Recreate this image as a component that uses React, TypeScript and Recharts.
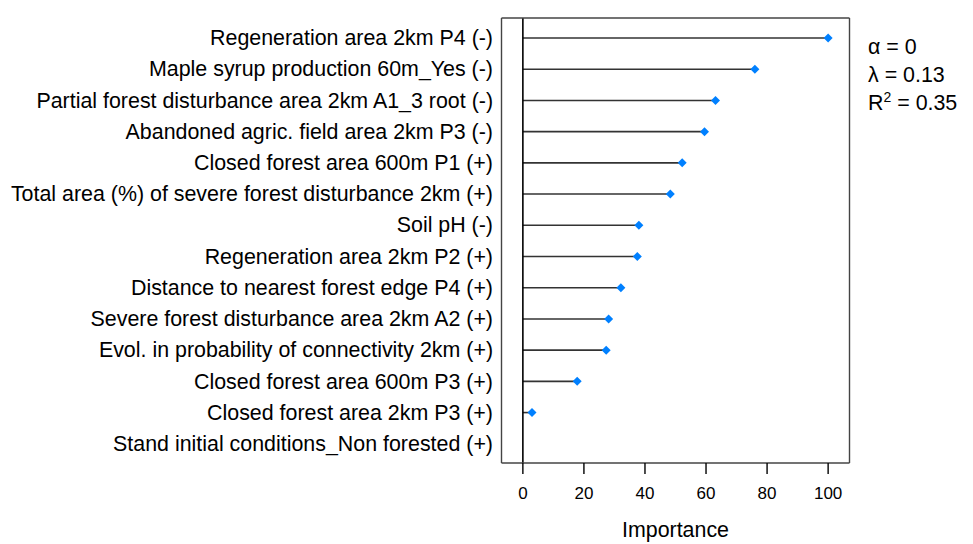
import React from 'react';
import { ComposedChart, Bar, XAxis, YAxis, ReferenceLine } from 'recharts';

const labels: string[] = [
  'Regeneration area 2km P4 (-)',
  'Maple syrup production 60m_Yes (-)',
  'Partial forest disturbance area 2km A1_3 root (-)',
  'Abandoned agric. field area 2km P3 (-)',
  'Closed forest area 600m P1 (+)',
  'Total area (%) of severe forest disturbance 2km (+)',
  'Soil pH (-)',
  'Regeneration area 2km P2 (+)',
  'Distance to nearest forest edge P4 (+)',
  'Severe forest disturbance area 2km A2 (+)',
  'Evol. in probability of connectivity 2km (+)',
  'Closed forest area 600m P3 (+)',
  'Closed forest area 2km P3 (+)',
  'Stand initial conditions_Non forested (+)',
];

const importance: (number | null)[] = [100, 76.0, 63.1, 59.5, 52.2, 48.3, 38.0, 37.5, 32.1, 28.1, 27.3, 17.8, 3.0, null];

const xTicks: number[] = [0, 20, 40, 60, 80, 100];

const rows = labels.map((name, i) => ({ name, value: importance[i] }));

const FONT = '"Liberation Sans", Arial, sans-serif';

const Lollipop = (props: any) => {
  const { x, y, width, height, payload } = props;
  if (payload == null || payload.value == null) return null;
  const cy = y + height / 2;
  const x2 = x + width;
  const r = 4.5;
  return (
    <g>
      <line x1={x} y1={cy} x2={x2} y2={cy} stroke="#333" strokeWidth={1.6} />
      <polygon
        points={`${x2},${cy - r} ${x2 + r},${cy} ${x2},${cy + r} ${x2 - r},${cy}`}
        fill="#0080ff"
      />
    </g>
  );
};

export default function App() {
  return (
    <div style={{ position: 'absolute', left: 0, top: 0, width: 973, height: 544, background: '#fff' }}>
      <ComposedChart
        layout="vertical"
        width={973}
        height={544}
        data={rows}
        margin={{ top: 0, right: 0, bottom: 0, left: 0 }}
        barSize={10}
      >
        <XAxis
          xAxisId="bottom"
          orientation="bottom"
          type="number"
          domain={[-7, 107]}
          ticks={xTicks}
          height={81}
          tickSize={11}
          tickMargin={13}
          axisLine={{ stroke: '#444', strokeWidth: 1.4 }}
          tickLine={{ stroke: '#000', strokeWidth: 1.4 }}
          tick={{ fontSize: 17, fill: '#000', fontFamily: FONT }}
          allowDataOverflow
          label={{ value: 'Importance', position: 'insideBottom', offset: 7, fontSize: 21.4, fill: '#000', fontFamily: FONT }}
        />
        <XAxis
          xAxisId="top"
          orientation="top"
          type="number"
          domain={[-7, 107]}
          ticks={xTicks}
          height={18}
          tickSize={11}
          axisLine={{ stroke: '#444', strokeWidth: 1.4 }}
          tickLine={{ stroke: '#000', strokeWidth: 1.4 }}
          tick={false}
          allowDataOverflow
        />
        <YAxis
          yAxisId="left"
          type="category"
          dataKey="name"
          width={501.5}
          padding={{ top: 4, bottom: 4 }}
          tickLine={false}
          tickSize={0}
          tickMargin={8.5}
          axisLine={{ stroke: '#444', strokeWidth: 1.4 }}
          tick={{ fontSize: 21.4, fill: '#000', fontFamily: FONT }}
          interval={0}
        />
        <YAxis
          yAxisId="right"
          orientation="right"
          type="category"
          dataKey="name"
          width={123.5}
          padding={{ top: 4, bottom: 4 }}
          tickLine={false}
          tick={false}
          axisLine={{ stroke: '#444', strokeWidth: 1.4 }}
        />
        <ReferenceLine x={0} xAxisId="bottom" yAxisId="left" stroke="#000" strokeWidth={1.6} />
        <Bar
          dataKey="value"
          xAxisId="bottom"
          yAxisId="left"
          shape={Lollipop}
          isAnimationActive={false}
        />
      </ComposedChart>
      <div
        style={{
          position: 'absolute',
          left: 868,
          top: 33,
          fontFamily: FONT,
          fontSize: 21.4,
          lineHeight: '28px',
          color: '#000',
          whiteSpace: 'nowrap',
        }}
      >
        <div>α = 0</div>
        <div>λ = 0.13</div>
        <div>
          R<span style={{ fontSize: 14, position: 'relative', top: -8 }}>2</span> = 0.35
        </div>
      </div>
    </div>
  );
}
